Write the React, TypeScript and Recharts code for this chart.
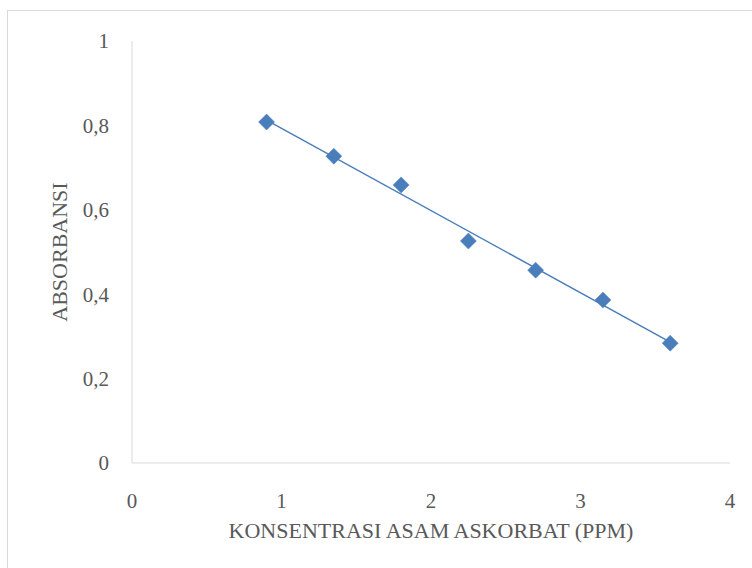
import React from 'react';
import { ScatterChart, Scatter, XAxis, YAxis } from 'recharts';

const concentrations = [0.9, 1.35, 1.8, 2.25, 2.7, 3.15, 3.6];
const absorbances = [0.808, 0.727, 0.659, 0.526, 0.457, 0.386, 0.284];
const xTicks = [0, 1, 2, 3, 4];
const yTicks = [0, 0.2, 0.4, 0.6, 0.8, 1];
const xTitle = 'KONSENTRASI ASAM ASKORBAT (PPM)';
const yTitle = 'ABSORBANSI';

const points = concentrations.map((x, i) => ({ x, y: absorbances[i] }));

// least-squares linear trendline
const n = concentrations.length;
const mx = concentrations.reduce((a, b) => a + b, 0) / n;
const my = absorbances.reduce((a, b) => a + b, 0) / n;
let sxy = 0, sxx = 0;
for (let i = 0; i < n; i++) {
  sxy += (concentrations[i] - mx) * (absorbances[i] - my);
  sxx += (concentrations[i] - mx) ** 2;
}
const slope = sxy / sxx;
const intercept = my - slope * mx;
const xMin = Math.min(...concentrations);
const xMax = Math.max(...concentrations);
const trend = [
  { x: xMin, y: intercept + slope * xMin },
  { x: xMax, y: intercept + slope * xMax },
];

const COLOR = '#4a7ebb';
const FONT = '"Liberation Serif", serif';
const TEXT = '#595959';

const Diamond = (props: any) => {
  const { cx, cy } = props;
  if (cx == null || cy == null) return null;
  const r = 8;
  return (
    <polygon
      points={`${cx},${cy - r} ${cx + r},${cy} ${cx},${cy + r} ${cx - r},${cy}`}
      fill={COLOR}
      stroke={COLOR}
      strokeWidth={0.5}
    />
  );
};

const Nothing = () => null;

const fmt = (v: number) => String(v).replace('.', ',');

export default function App() {
  return (
    <div style={{ position: 'absolute', left: 0, top: 0, width: 752, height: 568, overflow: 'hidden', background: '#fff' }}>
      <div style={{ position: 'absolute', left: 7, top: 10, width: 800, height: 700, border: '1px solid #d9d9d9', boxSizing: 'border-box' }} />
      <div style={{ position: 'absolute', left: 0, top: 0 }}>
        <ScatterChart width={752} height={568} margin={{ top: 41, right: 22, bottom: 45, left: 72 }}>
          <XAxis
            type="number"
            dataKey="x"
            domain={[0, 4]}
            ticks={xTicks}
            tickLine={false}
            tickSize={0}
            tickMargin={30}
            axisLine={{ stroke: '#d9d9d9', strokeWidth: 1 }}
            tick={{ fill: TEXT, fontSize: 21, fontFamily: FONT }}
            height={60}
            label={(p: any) => {
              const vb = p.viewBox;
              return (
                <text x={vb.x + vb.width / 2} y={538} textAnchor="middle" fill={TEXT} fontSize={22} fontFamily={FONT}>
                  {xTitle}
                </text>
              );
            }}
          />
          <YAxis
            type="number"
            dataKey="y"
            domain={[0, 1]}
            ticks={yTicks}
            tickLine={false}
            tickSize={0}
            tickMargin={23}
            axisLine={{ stroke: '#d9d9d9', strokeWidth: 1 }}
            tick={{ fill: TEXT, fontSize: 21, fontFamily: FONT }}
            tickFormatter={fmt}
            width={60}
            label={(p: any) => {
              const vb = p.viewBox;
              const cy = vb.y + vb.height / 2;
              return (
                <text x={67} y={cy} transform={`rotate(-90, 67, ${cy})`} textAnchor="middle" fill={TEXT} fontSize={22} fontFamily={FONT}>
                  {yTitle}
                </text>
              );
            }}
          />
          <Scatter data={trend} line={{ stroke: COLOR, strokeWidth: 1.5 }} lineType="joint" shape={Nothing} isAnimationActive={false} />
          <Scatter data={points} fill={COLOR} shape={Diamond} isAnimationActive={false} />
        </ScatterChart>
      </div>
    </div>
  );
}
